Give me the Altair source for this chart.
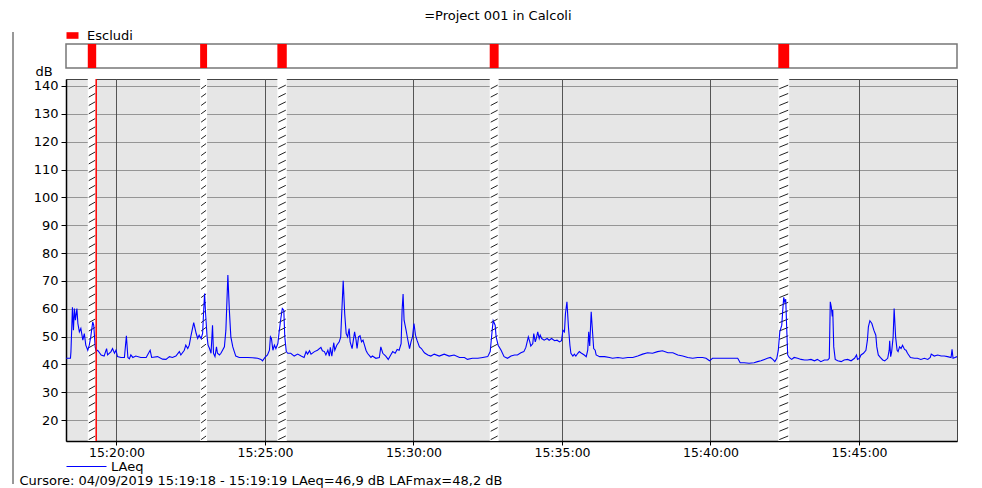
import altair as alt
import pandas as pd
import numpy as np

START = pd.Timestamp("2019-09-04 15:18:18")
FONT = "DejaVu Sans"
FS = 13

# seconds after 15:18:18 and LAeq in dB
t_sec = [
    0, 2, 9, 10, 13, 15, 17, 19, 22, 24,
    27, 30, 34, 37, 40, 44, 47, 50, 54, 56,
    59, 61, 64, 71, 77, 82, 84, 91, 94, 98,
    101, 104, 111, 118, 122, 125, 128, 131, 135, 141,
    151, 162, 170, 173, 185, 195, 202, 209, 215, 222,
    229, 232, 239, 242, 246, 249, 252, 258, 263, 266,
    269, 273, 276, 278, 280, 282, 285, 287, 290, 293,
    296, 298, 301, 304, 306, 310, 313, 320, 323, 327,
    330, 333, 337, 340, 343, 350, 357, 367, 377, 387,
    394, 397, 402, 407, 411, 413, 415, 418, 421, 424,
    428, 431, 434, 437, 440, 442, 445, 448,
    454, 461, 468, 475, 481, 485, 488, 492, 495, 502,
    508, 515, 518, 522, 525, 529, 532, 534, 537, 541,
    543, 547, 552, 555, 557, 560, 563, 566, 569, 572,
    574, 578, 580, 583, 586, 588, 591, 594, 597, 600,
    603, 606, 609, 616, 619, 626, 633, 636, 640, 646,
    651, 656, 660, 665, 669, 673, 677, 679, 681, 683,
    687, 690, 694, 697, 700, 703, 706, 709, 714, 718,
    724, 731, 737, 744, 754, 764, 774, 784, 795, 805,
    811, 821, 832, 842, 852, 857, 861, 863, 867, 869,
    873, 879, 885, 892, 899, 906, 912,
    919, 925, 929, 934, 937, 939, 943, 945, 948, 950,
    953, 956, 958, 961, 966, 972, 976, 981, 987, 992,
    997, 1001, 1004, 1007, 1009, 1012, 1015, 1018, 1020, 1024,
    1027, 1030, 1034, 1037, 1040, 1047, 1051, 1054, 1056, 1058,
    1061, 1063, 1066, 1069, 1071, 1078, 1088, 1098, 1104, 1115,
    1125, 1135, 1145, 1155, 1165, 1175, 1185, 1195, 1205, 1216,
    1226, 1236, 1246, 1256, 1266, 1276, 1286, 1293, 1300, 1306,
    1317, 1327, 1337, 1347, 1357, 1362, 1370, 1380,
    1390, 1397, 1404, 1411, 1417, 1423, 1428, 1432, 1436, 1439,
    1442, 1446, 1448, 1450, 1452, 1454, 1456, 1458, 1461, 1466,
    1471, 1478, 1485, 1492, 1498, 1505, 1512, 1518, 1525, 1532,
    1539, 1542, 1544, 1546, 1548, 1549, 1551, 1554, 1559, 1566,
    1572, 1579, 1586, 1593, 1597, 1599, 1603, 1606, 1611, 1616,
    1619, 1621, 1624, 1628, 1632, 1636, 1638, 1641, 1645, 1650,
    1654, 1660, 1663, 1664, 1666, 1668, 1671, 1673, 1676, 1679,
    1681, 1684, 1687, 1690, 1694, 1697, 1700, 1706, 1714, 1720,
    1727, 1734, 1741, 1746, 1748, 1754, 1761, 1768, 1774, 1781,
    1788, 1790, 1792, 1796, 1800,
]
laeq = [
    42.2, 42.2, 42.2, 44.6, 60.5, 52.3, 60.1, 55.9, 60.1, 54.7,
    51.7, 52.9, 48.7, 51.1, 46.9, 45.1, 46.9, 49.9, 55.3, 54.1,
    46.3, 44.6, 45.1, 43.4, 43.0, 45.7, 43.4, 44.6, 45.7, 44.0,
    45.1, 42.8, 42.5, 42.5, 50.3, 42.5, 42.0, 43.4, 42.5, 43.0,
    42.5, 42.5, 45.1, 42.5, 42.8, 41.9, 41.8, 42.8, 42.5, 43.0,
    44.6, 43.4, 45.1, 46.9, 45.7, 46.9, 49.9, 55.0, 51.1, 49.3,
    50.5, 49.3, 51.1, 58.9, 65.5, 58.3, 49.9, 46.9, 45.7, 44.0,
    54.1, 44.0, 42.8, 46.3, 44.0, 43.4, 44.0, 46.3, 52.3, 72.1,
    59.5, 49.9, 46.3, 44.6, 43.0, 42.5, 42.5, 42.5, 42.4, 42.2,
    41.8, 41.3, 42.5, 43.4, 45.1, 49.9, 49.3, 45.1, 46.9, 45.7,
    47.5, 52.3, 56.5, 60.1, 59.5, 49.9, 44.6, 44.0,
    44.0, 43.0, 43.7, 43.0, 42.5, 44.6, 43.7, 44.9, 43.7, 44.6,
    45.1, 46.1, 44.9, 44.6, 43.4, 45.1, 43.0, 46.1, 43.0, 47.8,
    45.1, 46.9, 48.1, 49.9, 58.3, 70.0, 58.3, 51.1, 49.9, 52.9,
    48.1, 45.7, 48.1, 51.7, 48.7, 45.7, 49.9, 50.3, 48.1, 48.7,
    46.9, 45.1, 44.0, 42.5, 43.0, 42.2, 42.5, 46.3, 44.0, 43.0,
    41.8, 43.4, 44.6, 44.0, 45.4, 45.1, 47.5, 59.5, 65.3, 55.9,
    52.3, 49.3, 45.7, 48.1, 49.9, 54.7, 50.5, 48.7, 46.3, 45.7,
    44.2, 43.4, 43.0, 43.7, 43.0, 43.7, 43.0, 43.4, 42.5, 42.5,
    41.8, 42.2, 42.2, 42.5, 42.8, 44.6, 52.3, 55.7, 54.1, 49.9,
    46.9, 45.1, 42.8, 42.2, 43.0, 43.4, 43.4,
    44.2, 44.6, 46.1, 49.9, 48.1, 46.6, 47.5, 51.1, 48.1, 49.3,
    51.7, 49.3, 50.5, 49.3, 48.7, 49.3, 48.7, 49.3, 48.5, 48.7,
    48.1, 48.5, 52.3, 51.7, 58.3, 62.5, 53.5, 46.9, 44.0, 43.0,
    43.7, 43.0, 44.0, 44.6, 44.2, 43.4, 42.8, 45.1, 51.7, 46.6,
    58.9, 53.5, 45.7, 45.1, 43.4, 42.8, 42.8, 42.5, 42.2, 42.5,
    42.2, 42.5, 42.5, 43.0, 43.7, 44.2, 44.0, 44.6, 44.9, 44.2,
    44.2, 43.4, 43.0, 42.5, 42.2, 42.5, 42.5, 42.2, 41.3, 42.2,
    42.2, 42.2, 42.2, 42.2, 42.2, 40.6, 40.6, 40.4,
    40.6, 41.0, 41.3, 41.8, 42.2, 42.5, 41.8, 41.0, 42.2, 45.1,
    51.7, 54.1, 59.5, 64.1, 62.5, 63.4, 52.9, 43.4, 42.5, 41.8,
    42.5, 42.2, 41.8, 41.6, 41.6, 41.8, 41.3, 41.8, 41.0, 41.6,
    41.6, 42.2, 62.5, 60.7, 57.2, 59.5, 46.3, 41.8, 41.3, 41.0,
    41.6, 41.8, 41.3, 42.2, 43.4, 41.8, 42.2, 43.4, 44.0, 45.1,
    48.7, 53.5, 55.7, 54.7, 52.3, 50.5, 46.3, 43.4, 42.5, 41.6,
    41.3, 42.2, 45.1, 48.5, 42.8, 44.6, 49.9, 60.1, 49.9, 45.1,
    44.6, 46.3, 45.7, 46.9, 45.4, 45.1, 44.0, 42.5, 42.2, 42.2,
    41.8, 42.2, 41.8, 42.5, 43.7, 43.0, 43.4, 43.0, 43.0, 42.8,
    42.5, 45.4, 42.2, 42.5, 42.8,
]
assert len(t_sec) == len(laeq)

# excluded intervals ("Escludi"), seconds after 15:18:18
excl_start = [44, 271, 427, 856, 1439]
excl_end = [61, 285, 446, 874, 1461]

cursor_sec = [61]
tick_minutes = [20, 25, 30, 35, 40, 45]
y_ticks = [20, 30, 40, 50, 60, 70, 80, 90, 100, 110, 120, 130, 140]

title_text = "=Project 001 in Calcoli"
cursor_text = "Cursore: 04/09/2019 15:19:18 - 15:19:19  LAeq=46,9 dB  LAFmax=48,2 dB"


def iso(s):
    ts = START + pd.Timedelta(milliseconds=int(round(s * 1000)))
    return ts.strftime("%Y-%m-%dT%H:%M:%S.") + f"{ts.microsecond // 1000:03d}"


def dt(h, m, s=0):
    return alt.DateTime(year=2019, month=9, date=4, hours=h, minutes=m, seconds=s)


line_df = pd.DataFrame({"time": [iso(s) for s in t_sec], "laeq": laeq, "series": "LAeq"})
excl_df = pd.DataFrame({
    "start": [iso(s) for s in excl_start],
    "end": [iso(s) for s in excl_end],
    "label": "Escludi",
})
cursor_df = pd.DataFrame({"time": [iso(s) for s in cursor_sec]})

hatch_rows = []
for a, b in zip(excl_start, excl_end):
    for v in np.arange(13.0, 141.5, 3.0):
        hatch_rows.append({"x": iso(a + 2.0), "x2": iso(b - 2.0), "y": v, "y2": v + 1.3})
hatch_df = pd.DataFrame(hatch_rows)

xscale = alt.Scale(domain=[dt(15, 18, 18), dt(15, 48, 18)])
yscale = alt.Scale(domain=[12.5, 142.5], nice=False, zero=False)

W = 891

# ---- top band with excluded intervals ----
band = alt.Chart(excl_df).mark_rect().encode(
    x=alt.X("start:T", scale=xscale, axis=None),
    x2="end:T",
    color=alt.Color(
        "label:N",
        scale=alt.Scale(domain=["Escludi"], range=["#ff0000"]),
        legend=alt.Legend(
            title=None, orient="none", legendX=0, legendY=-15,
            symbolType="M-1,-0.55L1,-0.55L1,0.55L-1,0.55Z", symbolSize=144,
            symbolStrokeWidth=0, labelFont=FONT, labelFontSize=FS,
            labelColor="black", labelOffset=8, padding=0,
        ),
    ),
).properties(width=W, height=24, view=alt.ViewBackground(fill="white", stroke="#777", strokeWidth=1.5))

# ---- main panel ----
x_axis = alt.Axis(
    format="%H:%M:%S", values=[dt(15, m) for m in tick_minutes],
    grid=True, gridColor="#555", gridWidth=1,
    domainColor="black", domainWidth=1.5, tickColor="black", tickSize=4,
    labelFont=FONT, labelFontSize=12.5, labelColor="black", labelPadding=1,
    labelFlush=False, labelOverlap=False,
    title=cursor_text, titleFont=FONT, titleFontSize=FS, titleFontWeight="normal",
    titleColor="black", titleX=-47, titleY=39, titleAlign="left", titleBaseline="middle",
)
y_axis = alt.Axis(
    values=y_ticks, grid=True, gridColor="#444", gridDash=[1, 1], gridWidth=1,
    domainColor="black", domainWidth=1.5, tickColor="black", tickSize=5,
    labelFont=FONT, labelFontSize=FS, labelColor="black", labelPadding=3,
    labelOverlap=False, labelFlush=False,
    title="dB", titleFont=FONT, titleFontSize=FS, titleFontWeight="normal",
    titleColor="black", titleAngle=0, titleAlign="left", titleX=-31, titleY=-1,
    titleBaseline="bottom",
)

excl_main = alt.Chart(excl_df).mark_rect(color="white").encode(
    x=alt.X("start:T", scale=xscale, axis=x_axis),
    x2="end:T",
)
hatch = alt.Chart(hatch_df).mark_rule(color="#222", strokeWidth=1).encode(
    x=alt.X("x:T", scale=xscale, axis=x_axis),
    x2="x2:T",
    y=alt.Y("y:Q", scale=yscale, axis=y_axis),
    y2="y2:Q",
)
line = alt.Chart(line_df).mark_line(strokeWidth=1.1).encode(
    x=alt.X("time:T", scale=xscale, axis=x_axis),
    y=alt.Y("laeq:Q", scale=yscale, axis=y_axis),
    color=alt.Color(
        "series:N",
        scale=alt.Scale(domain=["LAeq"], range=["#0000ff"]),
        legend=alt.Legend(
            title=None, orient="none", legendX=0, legendY=367,
            symbolType="stroke", symbolSize=1600, symbolStrokeWidth=1,
            symbolStrokeColor="#0000ff",
            labelFont=FONT, labelFontSize=FS, labelColor="black",
            labelOffset=4, padding=0,
        ),
    ),
)
cursor = alt.Chart(cursor_df).mark_rule(color="#ff0000", strokeWidth=1.5).encode(
    x=alt.X("time:T", scale=xscale, axis=x_axis),
)
# left edge of the report box
frame_left = alt.Chart(cursor_df).mark_rule(color="#333", strokeWidth=1).encode(
    x=alt.value(-53), y=alt.value(-47), y2=alt.value(405),
)

main = alt.layer(excl_main, hatch, line, cursor, frame_left).properties(
    width=W, height=362,
    view=alt.ViewBackground(fill="#e6e6e6", stroke="#444", strokeWidth=1),
)

chart = alt.vconcat(band, main, spacing=11, bounds="flush").resolve_scale(
    color="independent"
).resolve_legend(color="independent").properties(
    title=alt.TitleParams(
        title_text, anchor="middle", font=FONT, fontSize=FS, fontWeight="normal",
        color="black", offset=5, dx=12,
    ),
    padding={"left": 4, "top": 2, "right": 5, "bottom": 0},
    background="white",
)

chart.save("out.html", embed_options={"renderer": "svg", "actions": False})
